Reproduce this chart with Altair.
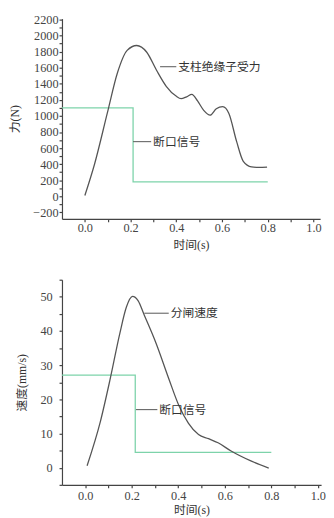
import altair as alt
import pandas as pd

# ---- top chart data: insulator force (N) ----
force_t = [0.0, 0.042, 0.099, 0.142, 0.185, 0.227, 0.27, 0.313, 0.356, 0.399, 0.421, 0.445, 0.468,
           0.493, 0.52, 0.548, 0.575, 0.603, 0.63, 0.664, 0.693, 0.729, 0.76, 0.797]
force_v = [10, 396, 1044, 1531, 1815, 1876, 1795, 1571, 1369, 1247, 1215, 1238, 1268,
           1186, 1070, 1010, 1090, 1115, 1030, 680, 436, 367, 360, 363]
sig1_t = [-0.1, 0.211, 0.211, 0.8]
sig1_v = [1100, 1100, 180, 180]

# ---- bottom chart data: opening speed (mm/s) ----
speed_t = [0.008, 0.065, 0.107, 0.149, 0.177, 0.203, 0.227, 0.254, 0.304, 0.36, 0.402, 0.444,
           0.487, 0.53, 0.571, 0.627, 0.712, 0.789]
speed_v = [0.6, 13.5, 25.9, 39.4, 47.0, 50.1, 48.9, 44.6, 36.5, 25.9, 18.3, 13.0,
           9.7, 8.5, 7.3, 4.9, 2.0, -0.1]
sig2_t = [-0.1, 0.215, 0.215, 0.8]
sig2_v = [27.1, 27.1, 4.5, 4.5]

# ---- annotations ----
top_labels = ["支柱绝缘子受力", "断口信号"]
top_lab_x0 = [0.329, 0.211]
top_lab_x1 = [0.40, 0.29]
top_lab_y = [1612, 680]
bot_labels = ["分闸速度", "断口信号"]
bot_lab_x0 = [0.254, 0.218]
bot_lab_x1 = [0.359, 0.31]
bot_lab_y = [45.2, 17.0]

SERIF = "Liberation Serif, Noto Sans CJK SC"
CURVE = "#555555"
GREEN = "#7dd3aa"
GRAY = "#444444"

xlabel = "round(datum.value*10) % 2 == 0 ? format(datum.value, '.1f') : ''"


def make_panel(t, v, st, sv, labels, lx0, lx1, ly, ydom, yticks, ylabexpr, ytitle, xdom, w, h,
               xlabpad, xtitlepad, ylabpad, ytitlepad):
    xs = alt.Scale(domain=xdom, nice=False, zero=False)
    ys = alt.Scale(domain=ydom, nice=False, zero=False)
    xaxis = alt.Axis(values=[round(i * 0.1, 1) for i in range(0, 11)], labelExpr=xlabel,
                     title="时间(s)", grid=False, tickSize=3, labelPadding=xlabpad,
                     titlePadding=xtitlepad, labelOverlap=False, labelFlush=False)
    yaxis = alt.Axis(values=yticks, labelExpr=ylabexpr, title=ytitle, grid=False, tickSize=3,
                     labelPadding=ylabpad, labelOverlap=False, labelFlush=False,
                     titlePadding=ytitlepad)

    def X(f):
        return alt.X(f, type="quantitative", scale=xs, axis=xaxis)

    def Y(f):
        return alt.Y(f, type="quantitative", scale=ys, axis=yaxis)

    curve = alt.Chart(pd.DataFrame({"t": t, "v": v})).mark_line(
        color=CURVE, strokeWidth=1.3, interpolate="monotone", clip=True
    ).encode(x=X("t"), y=Y("v"))
    sig = alt.Chart(pd.DataFrame({"t": st, "v": sv, "o": list(range(len(st)))})).mark_line(
        color=GREEN, strokeWidth=1.3
    ).encode(x=X("t"), y=Y("v"), order="o:Q")
    ann = pd.DataFrame({"lab": labels, "x0": lx0, "x1": lx1, "y": ly})
    lead = alt.Chart(ann).mark_rule(color=CURVE, strokeWidth=1).encode(
        x=X("x0"), x2="x1:Q", y=Y("y"))
    txt = alt.Chart(ann).mark_text(align="left", baseline="middle", dx=2, font=SERIF,
                                   fontSize=12, color="#333333").encode(
        x=X("x1"), y=Y("y"), text="lab:N")
    return alt.layer(sig, curve, lead, txt).properties(width=w, height=h)


top = make_panel(force_t, force_v, sig1_t, sig1_v, top_labels, top_lab_x0, top_lab_x1, top_lab_y,
                 [-280, 2210], list(range(-200, 2201, 100)),
                 "datum.value % 200 == 0 ? format(datum.value, 'd') : ''", "力(N)",
                 [-0.1, 1.029], 263, 204, 0, 6, 1, 12)
bottom = make_panel(speed_t, speed_v, sig2_t, sig2_v, bot_labels, bot_lab_x0, bot_lab_x1, bot_lab_y,
                    [-5, 55], list(range(-5, 56, 5)),
                    "datum.value % 10 == 0 && datum.value >= 0 ? format(datum.value, 'd') : ''",
                    "速度(mm/s)", [-0.1, 1.014], 264, 209, 2, 3, 7, 12)

chart = alt.concat(top, bottom, columns=1, spacing=23, align="none", bounds="full",
                   center=False,
                   padding={"left": 0, "top": 0, "right": 0, "bottom": 0}
                   ).configure_view(stroke=None).configure_axis(
    domainColor=GRAY, tickColor=GRAY, labelColor="#444444", titleColor="#333333",
    labelFont=SERIF, titleFont=SERIF, labelFontSize=12.5, titleFontSize=12,
    titleFontWeight="normal", domainWidth=1.2, tickWidth=1.2
)

chart.save("out.html", embed_options={"renderer": "svg", "actions": False})
